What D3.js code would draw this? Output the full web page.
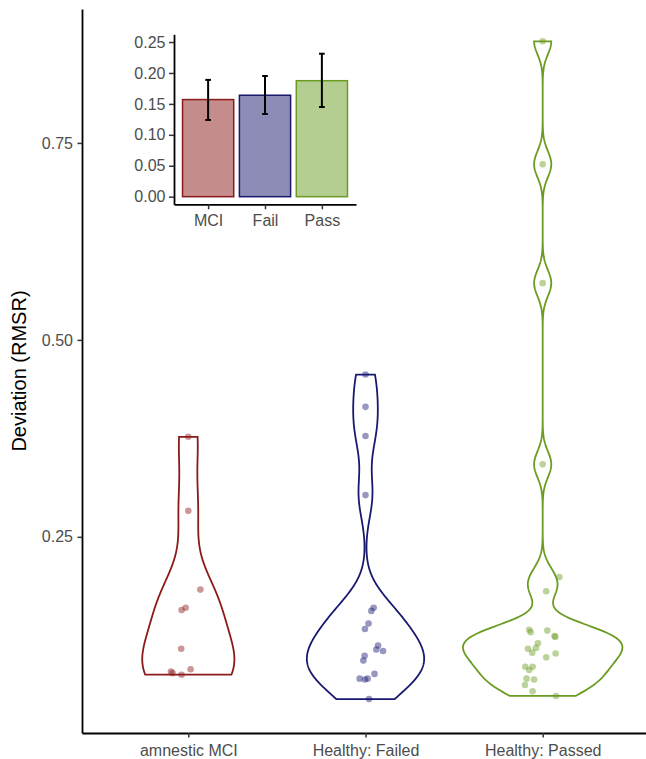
<!DOCTYPE html>
<html>
<head>
<meta charset="utf-8">
<script src="https://cdn.jsdelivr.net/npm/d3@7"></script>
<style>
  body { margin: 0; background: #fff; }
  text { font-family: "Liberation Sans", Arial, sans-serif; }
</style>
</head>
<body>
<svg id="chart" width="646" height="759"></svg>
<script>
// groups and their colours
var categories = ["amnestic MCI", "Healthy: Failed", "Healthy: Passed"];
var insetLabels = ["MCI", "Fail", "Pass"];
var colors = ["#8b1a1a", "#191970", "#6a9c22"];

// RMSR per participant
var mciValues = [0.377, 0.283, 0.183, 0.160, 0.157, 0.108, 0.079, 0.077, 0.075, 0.082];
var failedValues = [0.456, 0.415, 0.378, 0.303, 0.160, 0.156, 0.140, 0.133, 0.112, 0.107,
                    0.105, 0.099, 0.093, 0.076, 0.070, 0.069, 0.070, 0.044];
var passedValues = [0.879, 0.723, 0.572, 0.342, 0.199, 0.181, 0.132, 0.129, 0.131, 0.124,
                    0.123, 0.115, 0.108, 0.109, 0.103, 0.102, 0.097, 0.085, 0.085, 0.081,
                    0.070, 0.069, 0.062, 0.054, 0.048];

// horizontal jitter of each point, in category units
var mciJitter = [0, 0, 0.068, -0.015, -0.038, -0.040, -0.098, -0.089, -0.038, 0.013];
var failedJitter = [0, 0, 0, 0, 0.046, 0.033, 0.017, -0.003, 0.071, 0.061,
                    0.099, -0.005, -0.012, 0.051, -0.033, -0.003, 0.012, 0.020];
var passedJitter = [0, 0, 0, 0, 0.094, 0.020, -0.076, -0.068, 0.026, 0.067,
                    0.071, -0.027, -0.083, -0.038, -0.059, 0.073, 0.020, -0.098, -0.057, -0.076,
                    -0.091, -0.049, -0.100, -0.057, 0.075];

// inset: mean and error bar per group
var barMeans = [0.157, 0.164, 0.1875];
var errLow = [0.124, 0.1337, 0.145];
var errHigh = [0.1888, 0.1951, 0.2311];
var insetTicks = [0, 0.05, 0.10, 0.15, 0.20, 0.25];
var mainTicks = [0.25, 0.50, 0.75];

var groups = [mciValues, failedValues, passedValues];
var jitters = [mciJitter, failedJitter, passedJitter];

var svg = d3.select("#chart");

var x = d3.scaleLinear().domain([0.4, 3.6]).range([82, 649]);
var y = d3.scaleLinear().domain([0.001, 0.92]).range([733, 9]);

// kernel density like R's density() with bw.nrd0, trimmed to data range
function violinData(values) {
  let sorted = values.slice().sort(d3.ascending);
  let n = sorted.length;
  let sd = d3.deviation(sorted);
  let iqr = d3.quantileSorted(sorted, 0.75) - d3.quantileSorted(sorted, 0.25);
  let bw = 0.9 * Math.min(sd, iqr / 1.34) * Math.pow(n, -0.2);
  let lo = sorted[0], hi = sorted[n - 1];
  return d3.range(512).map(i => {
    let v = lo + (hi - lo) * i / 511;
    let d = d3.sum(sorted, s => Math.exp(-0.5 * Math.pow((v - s) / bw, 2))) / (n * bw * Math.sqrt(2 * Math.PI));
    return {v: v, d: d};
  });
}

var dens = groups.map(violinData);
var maxD = d3.max(dens, g => d3.max(g, p => p.d));

dens.forEach((g, i) => {
  let c = i + 1;
  let area = d3.area()
    .y(p => y(p.v))
    .x0(p => x(c - p.d / maxD * 0.45))
    .x1(p => x(c + p.d / maxD * 0.45));
  svg.append("path")
    .attr("d", area(g))
    .attr("fill", "white")
    .attr("stroke", colors[i])
    .attr("stroke-width", 1.8);
});

groups.forEach((vals, i) => {
  svg.append("g").selectAll("circle")
    .data(vals)
    .join("circle")
    .attr("cx", (v, j) => x(i + 1 + jitters[i][j]))
    .attr("cy", v => y(v))
    .attr("r", 3.3)
    .attr("fill", colors[i])
    .attr("fill-opacity", 0.45);
});

// main axes
var yAxis = svg.append("g").attr("transform", "translate(82,0)")
  .call(d3.axisLeft(y).tickValues(mainTicks).tickFormat(d3.format(".2f")).tickSize(4.5).tickSizeOuter(0).tickPadding(4.5));
var xAxis = svg.append("g").attr("transform", "translate(0,733)")
  .call(d3.axisBottom(x).tickValues([1, 2, 3]).tickFormat(d => categories[d - 1]).tickSize(4.5).tickSizeOuter(0).tickPadding(7));

[yAxis, xAxis].forEach(a => {
  a.select(".domain").attr("stroke", "black").attr("stroke-width", 1.8);
  a.selectAll(".tick line").attr("stroke", "#333").attr("stroke-width", 1.5);
  a.selectAll(".tick text").attr("fill", "#4d4d4d").style("font-size", "16px");
});

svg.append("text")
  .attr("transform", "translate(26,371) rotate(-90)")
  .attr("text-anchor", "middle")
  .style("font-size", "20px")
  .attr("fill", "black")
  .text("Deviation (RMSR)");

// inset bar chart
var xi = d3.scaleLinear().domain([0.4, 3.6]).range([174, 356]);
var yi = d3.scaleLinear().domain([-0.0123, 0.2625]).range([204.3, 34.3]);
var inset = svg.append("g");

inset.selectAll("rect")
  .data(barMeans)
  .join("rect")
  .attr("x", (d, i) => xi(i + 1 - 0.45))
  .attr("width", (d, i) => xi(i + 1 + 0.45) - xi(i + 1 - 0.45))
  .attr("y", d => yi(d))
  .attr("height", d => yi(0) - yi(d))
  .attr("fill", (d, i) => colors[i])
  .attr("fill-opacity", 0.5)
  .attr("stroke", (d, i) => colors[i])
  .attr("stroke-width", 1.5);

barMeans.forEach((d, i) => {
  let c = i + 1;
  let g = inset.append("g").attr("stroke", "black").attr("stroke-width", 2);
  g.append("line").attr("x1", xi(c)).attr("x2", xi(c)).attr("y1", yi(errLow[i])).attr("y2", yi(errHigh[i]));
  g.append("line").attr("x1", xi(c - 0.05)).attr("x2", xi(c + 0.05)).attr("y1", yi(errLow[i])).attr("y2", yi(errLow[i]));
  g.append("line").attr("x1", xi(c - 0.05)).attr("x2", xi(c + 0.05)).attr("y1", yi(errHigh[i])).attr("y2", yi(errHigh[i]));
});

var yiAxis = inset.append("g").attr("transform", "translate(174,0)")
  .call(d3.axisLeft(yi).tickValues(insetTicks).tickFormat(d3.format(".2f")).tickSize(5).tickSizeOuter(0).tickPadding(3.5));
var xiAxis = inset.append("g").attr("transform", "translate(0,204.3)")
  .call(d3.axisBottom(xi).tickValues([1, 2, 3]).tickFormat(d => insetLabels[d - 1]).tickSize(5).tickSizeOuter(0).tickPadding(5));

[yiAxis, xiAxis].forEach(a => {
  a.select(".domain").attr("stroke", "black").attr("stroke-width", 1.8);
  a.selectAll(".tick line").attr("stroke", "#333").attr("stroke-width", 1.5);
  a.selectAll(".tick text").attr("fill", "#4d4d4d").style("font-size", "16px");
});
</script>
</body>
</html>
